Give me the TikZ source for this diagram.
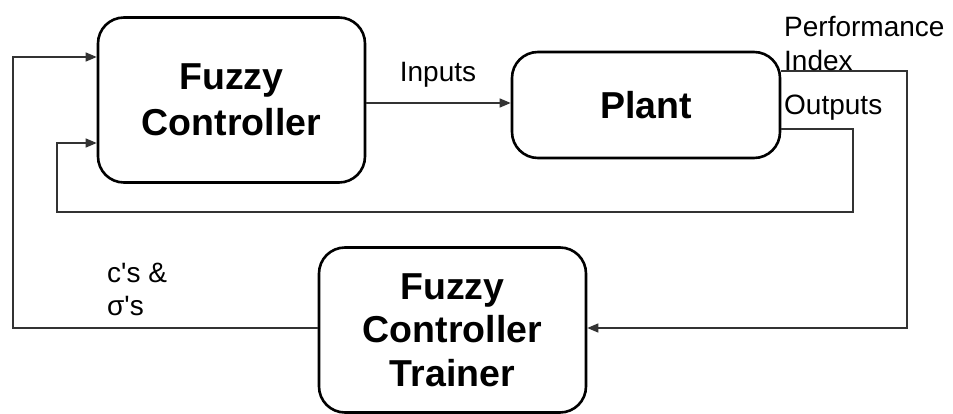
\documentclass[tikz,border=0pt]{standalone}
\usepackage{fontspec}
\setmainfont{Liberation Sans}
\usetikzlibrary{arrows.meta}
\tikzset{
  block/.style={draw, line width=2.6pt, rounded corners=26pt, align=center,
    font=\fontsize{37.5}{46}\selectfont\bfseries, inner sep=0pt},
  conn/.style={line width=1.3pt, draw=black!80},
  arr/.style={conn, -{Triangle[length=11pt,width=9pt]}},
  lbl/.style={font=\fontsize{28}{33}\selectfont, inner sep=0pt, align=left},
}
\begin{document}
\begin{tikzpicture}[x=1pt,y=-1pt]
\useasboundingbox (0,0) rectangle (953,414);
\node[block, minimum width=267pt, minimum height=165pt] (ctrl) at (231.5,100) {Fuzzy\\Controller};
\node[block, minimum width=268pt, minimum height=106pt] (plant) at (646,105) {Plant};
\node[block, minimum width=267pt, minimum height=165pt, font=\fontsize{37.5}{43.5}\selectfont\bfseries] (trainer) at (452.5,330) {Fuzzy\\Controller\\Trainer};
% bends
\coordinate (a1) at (13,328);
\coordinate (a2) at (13,57);
\coordinate (b1) at (853,129);
\coordinate (b2) at (853,212);
\coordinate (b3) at (57,212);
\coordinate (b4) at (57,143);
\coordinate (p1) at (907,71);
\coordinate (p2) at (907,328);
% connectors
\draw[arr] (ctrl.east |- 0,103) -- (plant.west |- 0,103);
\draw[arr] (trainer.west |- a1) -- (a1) -- (a2) -- (ctrl.west |- a2);
\draw[arr] (plant.east |- b1) -- (b1) -- (b2) -- (b3) -- (b4) -- (ctrl.west |- b4);
\draw[arr] (plant.east |- p1) -- (p1) -- (p2) -- (trainer.east |- p2);
% labels
\node[lbl, anchor=center] (inl) at (438,75) {Inputs};
\node[lbl, anchor=west] (perf) at (784,27) {Performance};
\node[lbl, anchor=west] (idx) at (784,60) {Index};
\node[lbl, anchor=west] (outl) at (784,108) {Outputs};
\node[lbl, anchor=west] (cs) at (107,273) {c\textquotesingle s \&};
\node[lbl, anchor=west] (sig) at (107,306) {σ\textquotesingle s};
\end{tikzpicture}
\end{document}
